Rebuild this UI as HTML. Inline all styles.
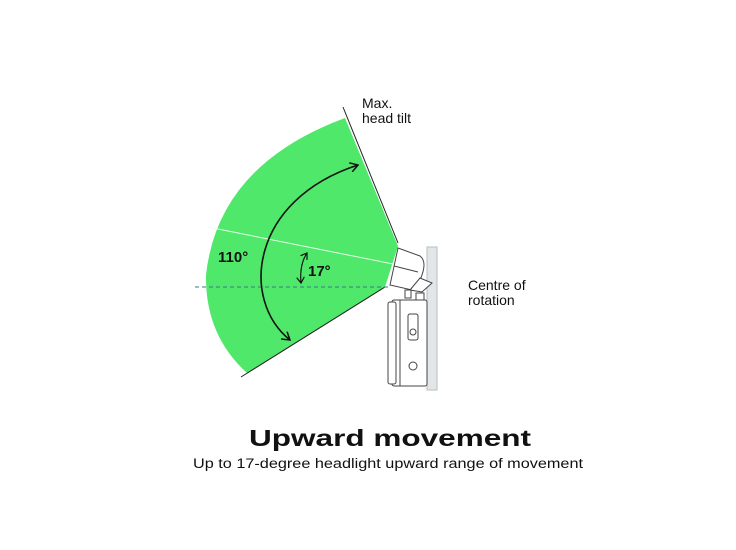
<!DOCTYPE html>
<html><head><style>html,body{margin:0;padding:0;background:#fff}svg{display:block}</style></head>
<body>
<svg width="736" height="550" viewBox="0 0 736 550" xmlns="http://www.w3.org/2000/svg" font-family="Liberation Sans, sans-serif">
<defs>
<marker id="ah" markerWidth="10" markerHeight="10" refX="8" refY="5" orient="auto-start-reverse" markerUnits="userSpaceOnUse">
<path d="M0,0 L8,5 L0,10" fill="none" stroke="#111" stroke-width="1.5"/></marker>
<marker id="as" markerWidth="8" markerHeight="8" refX="6" refY="4" orient="auto-start-reverse" markerUnits="userSpaceOnUse">
<path d="M0,0 L6,4 L0,8" fill="none" stroke="#111" stroke-width="1.2"/></marker>
</defs>
<path d="M398,246 L345,118 Q218,165 206,275 Q205,335 247,373 L385,287 Z" fill="#4fe86b"/>
<line x1="343" y1="107" x2="398" y2="243" stroke="#222" stroke-width="1"/>
<line x1="241" y1="377" x2="385" y2="287" stroke="#222" stroke-width="1"/>
<line x1="208" y1="227" x2="398" y2="265" stroke="#e8ffe8" stroke-width="1"/>
<line x1="195" y1="287" x2="390" y2="287" stroke="#3a7a80" stroke-width="1" stroke-dasharray="4,3"/>
<path d="M358,165 C250,200 240,300 290,340" fill="none" stroke="#111" stroke-width="1.6" marker-start="url(#ah)" marker-end="url(#ah)"/>
<path d="M307,253 C301,262 300,272 301,283" fill="none" stroke="#111" stroke-width="1.2" marker-start="url(#as)" marker-end="url(#as)"/>
<text x="218" y="262" font-size="15" font-weight="bold" fill="#111">110°</text>
<text x="308" y="276" font-size="15" font-weight="bold" fill="#111">17°</text>
<text x="362" y="108" font-size="14" fill="#111">Max.</text>
<text x="362" y="123" font-size="14" fill="#111">head tilt</text>
<text x="468" y="290" font-size="14" fill="#111">Centre of</text>
<text x="468" y="305" font-size="14" fill="#111">rotation</text>
<rect x="427" y="247" width="10" height="143" fill="#e2e6e8" stroke="#b8bfc2" stroke-width="1"/>
<g stroke="#444" stroke-width="1" fill="#fff">
<path d="M398,248 L420,256 Q428,262 420,280 L412,290 L390,285 Z"/>
<line x1="394" y1="266" x2="418" y2="272"/>
<path d="M410,290 L420,278 L432,283 L422,292 Z"/>
<rect x="405" y="290" width="6" height="8"/>
<rect x="416" y="293" width="8" height="10"/>
<rect x="392" y="300" width="35" height="86" rx="2"/>
<rect x="388" y="302" width="8" height="82" rx="2"/>
<line x1="400" y1="300" x2="400" y2="386"/>
<rect x="408" y="314" width="10" height="26" rx="2"/>
<circle cx="413" cy="332" r="3"/>
<circle cx="413" cy="366" r="4"/>
</g>
<text x="390" y="446" text-anchor="middle" font-size="23" font-weight="bold" fill="#111" textLength="282" lengthAdjust="spacingAndGlyphs">Upward movement</text>
<text x="388" y="468" text-anchor="middle" font-size="13.5" fill="#111" textLength="390" lengthAdjust="spacingAndGlyphs">Up to 17-degree headlight upward range of movement</text>
</svg>
</body></html>
